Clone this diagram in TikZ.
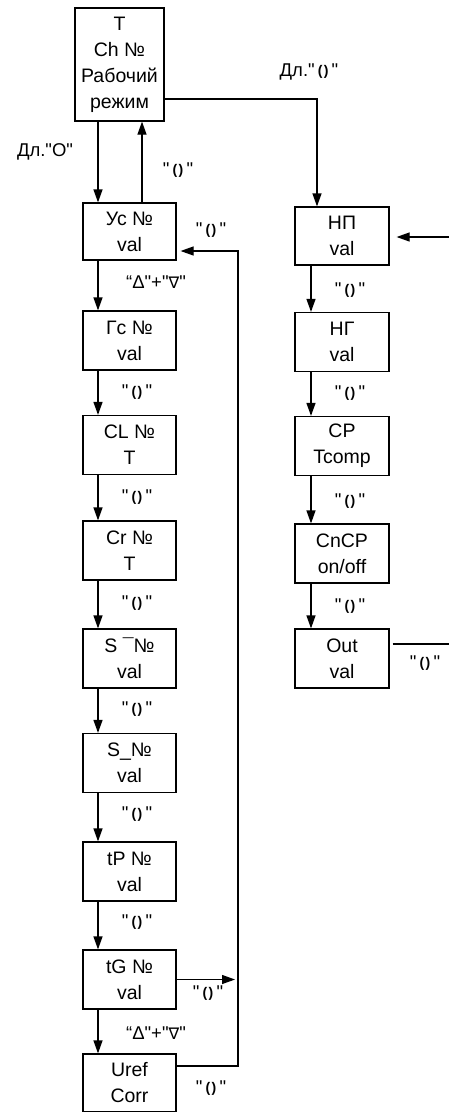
\documentclass[tikz,border=0pt]{standalone}
\usepackage{fontspec}
\setmainfont{Liberation Sans}[Ligatures=TeXOff]
\newfontfamily\djv{DejaVu Sans}[Ligatures=TeXOff]
\usetikzlibrary{arrows.meta}
\newcommand{\qq}{"}
\newcommand{\rs}{\raisebox{0.8pt}{\fontsize{14}{14}\selectfont\bfseries(\kern1.3pt)}}
\newcommand{\rk}{\qq\kern3.2pt\rs\kern3.2pt\qq}
\newcommand{\dn}{“Δ\qq+\qq{\djv\fontsize{16}{16}\selectfont∇}\qq}
\tikzset{
  box/.style={draw, line width=1.2pt, inner sep=0pt, align=center,
    font=\fontsize{19.5}{26}\selectfont},
  lbox/.style={box, minimum width=93pt},
  rbox/.style={box, minimum width=94pt},
  lab/.style={inner sep=0pt, font=\fontsize{18.5}{18.5}\selectfont},
  arr/.style={line width=1.2pt, -{Triangle[length=13pt,width=9pt]}},
  ln/.style={line width=1.2pt}
}
\begin{document}
\begin{tikzpicture}[x=1pt,y=-1pt]
\useasboundingbox (0,0) rectangle (449,1112);
% top box
\node[box, minimum width=89pt, minimum height=113pt] (top) at (119.5,64.5) {T\\Ch №\\Рабочий\\режим};
% left column
\node[lbox, minimum height=57pt] (uc) at (129.5,231.5) {Ус №\\val};
\node[lbox, minimum height=59pt] (gc) at (129.5,340.5) {Гс №\\val};
\node[lbox, minimum height=59pt] (cl) at (129.5,445) {CL №\\T};
\node[lbox, minimum height=59pt] (cr) at (129.5,550.5) {Cr №\\T};
\node[lbox, minimum height=59pt] (sup) at (129.5,658.5) {S ¯№\\val};
\node[lbox, minimum height=59pt] (sdn) at (129.5,763) {S\_№\\val};
\node[lbox, minimum height=59pt] (tp) at (129.5,871.5) {tP №\\val};
\node[lbox, minimum height=59pt] (tg) at (129.5,979.5) {tG №\\val};
\node[lbox, minimum height=58pt] (uref) at (129.5,1083) {Uref\\Corr};
% right column
\node[rbox, minimum height=58pt] (np) at (342,236) {НП\\val};
\node[rbox, minimum height=59pt] (ng) at (342,342) {НГ\\val};
\node[rbox, minimum height=59pt] (cp) at (342,446) {CP\\Tcomp};
\node[rbox, minimum height=59pt] (cncp) at (342,553.5) {CnCP\\on/off};
\node[rbox, minimum height=59pt] (out) at (342,658.5) {Out\\val};
% coordinates
\coordinate (tr) at (317,99);
\coordinate (fbtop) at (238,251);
\coordinate (fbbot) at (238,1066);
\coordinate (tgend) at (235,979.5);
\coordinate (npin) at (449,237);
\coordinate (outend) at (449,644);
% connectors top
\draw[arr] (top.south -| 98,0) -- (uc.north -| 98,0);
\draw[arr] (uc.north -| 142,0) -- (top.south -| 142,0);
\draw[arr] (top.east |- tr) -- (tr) -- (np.north -| tr);
% left chain
\foreach \a/\b in {uc/gc, gc/cl, cl/cr, cr/sup, sup/sdn, sdn/tp, tp/tg, tg/uref}{
  \draw[arr] (\a.south -| 98,0) -- (\b.north -| 98,0);
}
% right chain
\foreach \a/\b in {np/ng, ng/cp, cp/cncp, cncp/out}{
  \draw[arr] (\a.south -| 311,0) -- (\b.north -| 311,0);
}
% feedback
\draw[arr] (uref.east |- fbbot) -- (fbbot) -- (fbtop) -- ([xshift=4pt]uc.east |- fbtop);
\draw[arr] (tg.east) -- (tgend);
\draw[arr] (npin) -- ([xshift=7pt]np.east |- npin);
\draw[ln] ([xshift=3pt]out.east |- outend) -- (outend);
% labels
\node[lab] (l1) at (45,152) {Дл.\qq О\qq};
\node[lab] (l2) at (178,170) {\rk};
\node[lab] (l3) at (309,72) {Дл.\rk};
\node[lab] (l4) at (156,282) {\dn};
\node[lab] (l5) at (211,230) {\rk};
\node[lab] (l6) at (137,392) {\rk};
\node[lab] (l7) at (137,497) {\rk};
\node[lab] (l8) at (137,603) {\rk};
\node[lab] (l9) at (137,709) {\rk};
\node[lab] (l10) at (137,814) {\rk};
\node[lab] (l11) at (137,922) {\rk};
\node[lab] (l12) at (156,1033) {\dn};
\node[lab] (l13) at (208,993) {\rk};
\node[lab] (l14) at (211,1088) {\rk};
\node[lab] (l15) at (350,290) {\rk};
\node[lab] (l16) at (350,393) {\rk};
\node[lab] (l17) at (350,501) {\rk};
\node[lab] (l18) at (350,606) {\rk};
\node[lab] (l19) at (425,663) {\rk};
\end{tikzpicture}
\end{document}
